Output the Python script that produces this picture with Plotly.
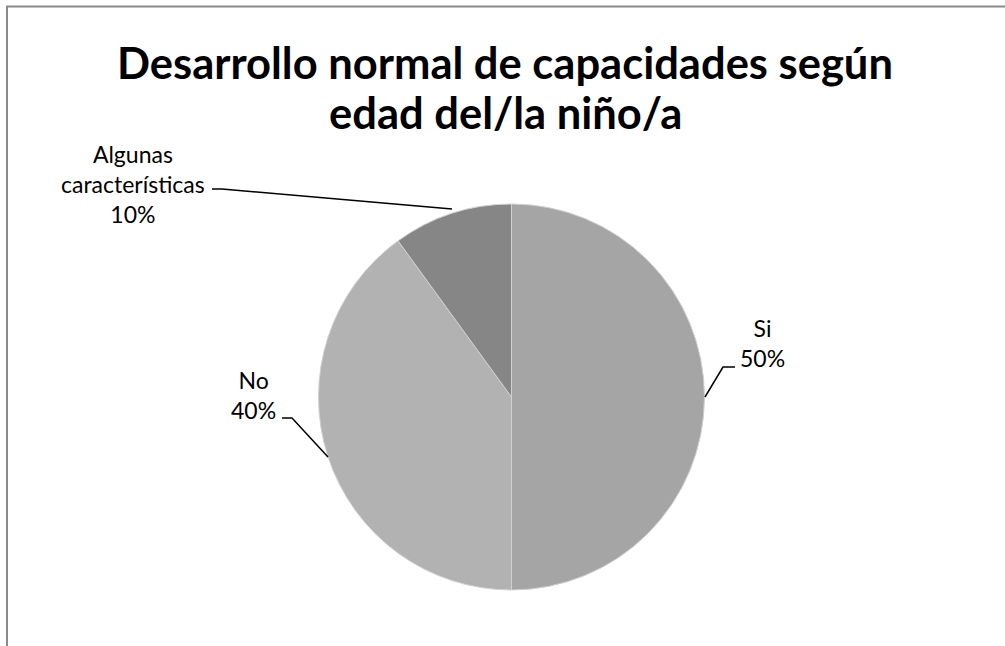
import plotly.graph_objects as go

# Datos
categorias = ["Si", "No", "Algunas<br>características"]
porcentajes = [50, 40, 10]
colores = ["#a5a5a5", "#b2b2b2", "#868686"]

W, H = 1005, 646
FUENTE = "Lato, Open Sans, sans-serif"


def px_x(x):
    return x / W


def px_y(y):
    return 1 - y / H


fig = go.Figure(go.Pie(
    labels=categorias,
    values=porcentajes,
    sort=False,
    direction="clockwise",
    rotation=0,
    marker=dict(colors=colores, line=dict(color="#d0d0d0", width=1)),
    textinfo="none",
    hoverinfo="label+percent",
    showlegend=False,
    domain=dict(x=[px_x(318), px_x(705)], y=[px_y(590), px_y(204)]),
))

# Etiquetas con líneas guía al estilo Excel
etiquetas = [
    # (texto, x, y, puntos de la línea guía)
    (f"{categorias[0]}<br>{porcentajes[0]}%", 762, 343,
     [(735, 367), (723, 367), (705, 397)]),
    (f"{categorias[1]}<br>{porcentajes[1]}%", 253, 395,
     [(282, 418), (292, 418), (328, 457)]),
    (f"{categorias[2]}<br>{porcentajes[2]}%", 133, 184,
     [(212, 189), (222, 189), (452, 209)]),
]

for texto, x, y, puntos in etiquetas:
    fig.add_annotation(
        text=texto, x=px_x(x), y=px_y(y), xref="paper", yref="paper",
        showarrow=False, align="center", xanchor="center", yanchor="middle",
        font=dict(family=FUENTE, size=23, color="#000"),
    )
    path = "M " + " L ".join(f"{px_x(a)},{px_y(b)}" for a, b in puntos)
    fig.add_shape(type="path", path=path, xref="paper", yref="paper",
                  line=dict(color="#000", width=1.5))

# Título en dos líneas
for linea, y in [("Desarrollo normal de capacidades según", 62),
                 ("edad del/la niño/a", 112)]:
    fig.add_annotation(
        text=f"<b>{linea}</b>", x=px_x(505), y=px_y(y),
        xref="paper", yref="paper", showarrow=False,
        xanchor="center", yanchor="middle",
        font=dict(family=FUENTE, size=43.5, color="#000"),
    )

# Marco del gráfico
fig.add_shape(type="rect", xref="paper", yref="paper",
              x0=px_x(7), x1=1.05, y0=-0.05, y1=px_y(6.5),
              line=dict(color="#8a8a8a", width=2))

fig.update_layout(
    width=W, height=H,
    margin=dict(l=0, r=0, t=0, b=0),
    paper_bgcolor="white",
)

fig.write_html("out.html", config={"displayModeBar": False},
               post_script="document.body.style.margin='0px';")
